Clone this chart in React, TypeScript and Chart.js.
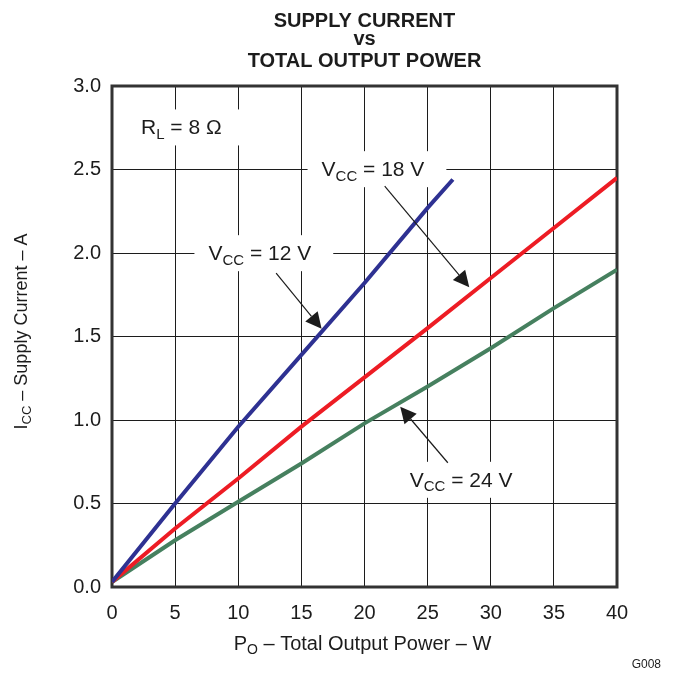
import React, { useEffect, useRef } from 'react';
import { Chart, registerables } from 'chart.js';

Chart.register(...registerables);

const FONT = '"Liberation Sans", Arial, Helvetica, sans-serif';
const INK = '#1c1c1c';

const titleLines = ['SUPPLY CURRENT', 'vs', 'TOTAL OUTPUT POWER'];
const xTickValues = [0, 5, 10, 15, 20, 25, 30, 35, 40];
const yTickValues = [0, 0.5, 1.0, 1.5, 2.0, 2.5, 3.0];
const yTickLabels = ['0.0', '0.5', '1.0', '1.5', '2.0', '2.5', '3.0'];

// Series: supply current (A) vs total output power (W)
const power12 = [0, 5, 10, 15, 20, 25, 27];
const current12 = [0.03, 0.5, 0.96, 1.39, 1.82, 2.27, 2.44];
const power18 = [0, 5, 10, 15, 20, 25, 30, 35, 40];
const current18 = [0.03, 0.35, 0.65, 0.96, 1.255, 1.55, 1.85, 2.15, 2.45];
const power24 = [0, 5, 10, 15, 20, 25, 30, 35, 40];
const current24 = [0.03, 0.28, 0.51, 0.74, 0.98, 1.2, 1.43, 1.67, 1.9];

const seriesNames = ['VCC = 12 V', 'VCC = 18 V', 'VCC = 24 V'];
const seriesColors = ['#2e3192', '#ed1c24', '#46805f'];

// Annotation labels (segments: [text, isSubscript])
type Seg = [string, boolean];
const labelSegments: Seg[][] = [
  [['R', false], ['L', true], [' = 8 Ω', false]],
  [['V', false], ['CC', true], [' = 18 V', false]],
  [['V', false], ['CC', true], [' = 12 V', false]],
  [['V', false], ['CC', true], [' = 24 V', false]],
];
const labelX = [5.49, 20.67, 11.71, 27.65];
const labelY = [2.71, 2.46, 1.957, 0.6];

const arrowFromX = [21.6, 13.0, 26.6];
const arrowFromY = [2.4, 1.88, 0.744];
const arrowToX = [28.3, 16.6, 22.83];
const arrowToY = [1.795, 1.546, 1.079];

const xTitleSegs: Seg[] = [['P', false], ['O', true], [' – Total Output Power – W', false]];
const yTitleSegs: Seg[] = [['I', false], ['CC', true], [' – Supply Current – A', false]];
const figureId = 'G008';

function richWidth(ctx: CanvasRenderingContext2D, segs: Seg[], size: number, subSize: number) {
  let w = 0;
  for (const [t, sub] of segs) {
    ctx.font = `${sub ? subSize : size}px ${FONT}`;
    w += ctx.measureText(t).width;
  }
  return w;
}

function drawRich(
  ctx: CanvasRenderingContext2D,
  segs: Seg[],
  x: number,
  y: number,
  size: number,
  subSize: number,
) {
  const w = richWidth(ctx, segs, size, subSize);
  let cx = x - w / 2;
  ctx.textAlign = 'left';
  ctx.textBaseline = 'alphabetic';
  for (const [t, sub] of segs) {
    ctx.font = `${sub ? subSize : size}px ${FONT}`;
    ctx.fillText(t, cx, sub ? y + size * 0.22 : y);
    cx += ctx.measureText(t).width;
  }
  return w;
}

function drawArrow(ctx: CanvasRenderingContext2D, x1: number, y1: number, x2: number, y2: number) {
  const ang = Math.atan2(y2 - y1, x2 - x1);
  const c = Math.cos(ang);
  const s = Math.sin(ang);
  const L = 16;
  const H = 8;
  const bx = x2 - L * c;
  const by = y2 - L * s;
  ctx.strokeStyle = INK;
  ctx.fillStyle = INK;
  ctx.lineWidth = 1.2;
  ctx.beginPath();
  ctx.moveTo(x1, y1);
  ctx.lineTo(bx, by);
  ctx.stroke();
  ctx.beginPath();
  ctx.moveTo(x2, y2);
  ctx.lineTo(bx + H * s, by - H * c);
  ctx.lineTo(bx - H * s, by + H * c);
  ctx.closePath();
  ctx.fill();
}

const decorPlugin = {
  id: 'decor',
  beforeDatasetsDraw(chart: any) {
    const { ctx, chartArea: a } = chart;
    const xs = chart.scales.x;
    const ys = chart.scales.y;
    ctx.save();
    ctx.strokeStyle = '#333';
    ctx.lineWidth = 3;
    ctx.strokeRect(a.left, a.top, a.right - a.left, a.bottom - a.top);
    labelSegments.forEach((segs, i) => {
      const px = xs.getPixelForValue(labelX[i]);
      const py = ys.getPixelForValue(labelY[i]);
      const w = richWidth(ctx, segs, 21, 15);
      ctx.fillStyle = '#fff';
      ctx.fillRect(px - w / 2 - 14, py - 25, w + 36, 36);
      ctx.fillStyle = INK;
      drawRich(ctx, segs, px, py, 21, 15);
    });
    ctx.restore();
  },
  afterDatasetsDraw(chart: any) {
    const { ctx } = chart;
    const xs = chart.scales.x;
    const ys = chart.scales.y;
    ctx.save();
    arrowFromX.forEach((_, i) => {
      drawArrow(
        ctx,
        xs.getPixelForValue(arrowFromX[i]),
        ys.getPixelForValue(arrowFromY[i]),
        xs.getPixelForValue(arrowToX[i]),
        ys.getPixelForValue(arrowToY[i]),
      );
    });
    ctx.restore();
  },
  afterDraw(chart: any) {
    const { ctx, chartArea: a } = chart;
    const cx = (a.left + a.right) / 2;
    ctx.save();
    ctx.fillStyle = INK;
    ctx.textAlign = 'center';
    ctx.textBaseline = 'alphabetic';
    ctx.font = `bold 20px ${FONT}`;
    const baselines = [26.5, 45, 66.5];
    titleLines.forEach((t, i) => ctx.fillText(t, cx, baselines[i]));
    // x axis title
    drawRich(ctx, xTitleSegs, cx - 2, 650, 20, 14);
    // y axis title (rotated)
    ctx.save();
    ctx.translate(27, (a.top + a.bottom) / 2 - 5);
    ctx.rotate(-Math.PI / 2);
    drawRich(ctx, yTitleSegs, 0, 0, 18, 13);
    ctx.restore();
    ctx.font = `12px ${FONT}`;
    ctx.textAlign = 'right';
    ctx.fillText(figureId, 661, 668);
    ctx.restore();
  },
};

export default function App() {
  const canvasRef = useRef<HTMLCanvasElement | null>(null);

  useEffect(() => {
    document.body.style.margin = '0';
    const canvas = canvasRef.current;
    if (!canvas) return;
    const mk = (xs: number[], ys: number[]) => xs.map((x, i) => ({ x, y: ys[i] }));
    const chart = new Chart(canvas, {
      type: 'scatter',
      data: {
        datasets: [
          { label: seriesNames[0], data: mk(power12, current12) },
          { label: seriesNames[1], data: mk(power18, current18) },
          { label: seriesNames[2], data: mk(power24, current24) },
        ].map((d, i) => ({
          ...d,
          showLine: true,
          borderColor: seriesColors[i],
          backgroundColor: seriesColors[i],
          borderWidth: 4,
          pointRadius: 0,
          tension: 0,
          borderCapStyle: 'butt',
        })) as any,
      },
      options: {
        responsive: false,
        animation: false,
        layout: { padding: { top: 86, right: 57, left: 0, bottom: 0 } },
        plugins: {
          legend: { display: false },
          tooltip: { enabled: false },
          title: { display: false },
        },
        scales: {
          x: {
            type: 'linear',
            min: 0,
            max: 40,
            afterFit: (s: any) => {
              s.height = 88;
            },
            afterBuildTicks: (s: any) => {
              s.ticks = xTickValues.map((v) => ({ value: v }));
            },
            ticks: {
              font: { family: FONT, size: 20 },
              color: INK,
              padding: 14,
              maxRotation: 0,
              autoSkip: false,
              callback: (v: any) => String(v),
            },
            grid: { color: INK, lineWidth: 1, drawTicks: false },
            border: { display: false },
          },
          y: {
            type: 'linear',
            min: 0,
            max: 3,
            afterFit: (s: any) => {
              s.width = 112;
            },
            afterBuildTicks: (s: any) => {
              s.ticks = yTickValues.map((v) => ({ value: v }));
            },
            ticks: {
              font: { family: FONT, size: 20 },
              color: INK,
              padding: 11,
              autoSkip: false,
              callback: (_v: any, i: number) => yTickLabels[i],
            },
            grid: { color: INK, lineWidth: 1, drawTicks: false },
            border: { display: false },
          },
        },
      },
      plugins: [decorPlugin],
    } as any);
    return () => chart.destroy();
  }, []);

  return (
    <div style={{ width: 674, height: 675 }}>
      <canvas ref={canvasRef} width={674} height={675} style={{ display: 'block' }} />
    </div>
  );
}
